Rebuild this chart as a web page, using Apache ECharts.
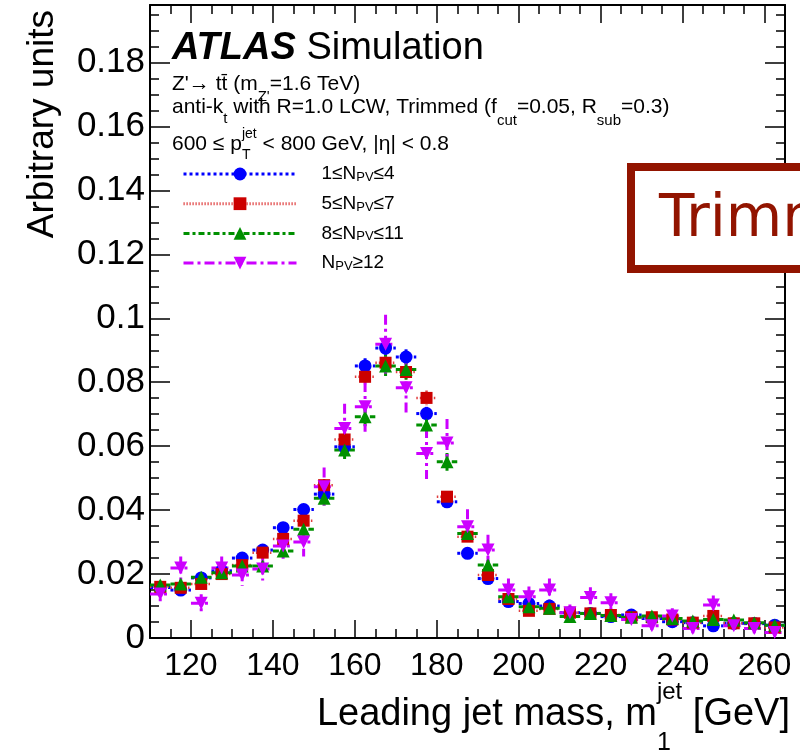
<!DOCTYPE html>
<html><head><meta charset="utf-8">
<script src="https://cdn.jsdelivr.net/npm/echarts@6/dist/echarts.min.js"></script>
<style>html,body{margin:0;padding:0;background:#fff}#c{width:800px;height:756px}</style>
</head><body><div id="c"></div>
<script>
// ---- data ----
const massBins = [112.5,117.5,122.5,127.5,132.5,137.5,142.5,147.5,152.5,157.5,162.5,167.5,172.5,177.5,182.5,187.5,192.5,197.5,202.5,207.5,212.5,217.5,222.5,227.5,232.5,237.5,242.5,247.5,252.5,257.5,262.5];
const binHalfWidth = 2.5;
const npv1to4 = [0.0158,0.0150,0.0188,0.0210,0.0250,0.0275,0.0345,0.0402,0.0450,0.0598,0.0851,0.0907,0.0879,0.0702,0.0426,0.0265,0.0186,0.0114,0.0108,0.0100,0.0079,0.0077,0.0067,0.0072,0.0061,0.0051,0.0048,0.0038,0.0046,0.0045,0.0040];
const npv5to7 = [0.0160,0.0157,0.0169,0.0200,0.0228,0.0267,0.0310,0.0367,0.0478,0.0621,0.0817,0.0861,0.0832,0.0751,0.0442,0.0317,0.0197,0.0122,0.0085,0.0091,0.0079,0.0077,0.0072,0.0065,0.0065,0.0058,0.0048,0.0069,0.0046,0.0046,0.0033];
const npv8to11 = [0.0166,0.0169,0.0190,0.0204,0.0225,0.0225,0.0272,0.0340,0.0437,0.0588,0.0692,0.0851,0.0840,0.0666,0.0551,0.0327,0.0228,0.0129,0.0098,0.0093,0.0067,0.0077,0.0070,0.0065,0.0069,0.0061,0.0053,0.0058,0.0056,0.0048,0.0040];
const npv12up = [0.0138,0.0219,0.0109,0.0219,0.0197,0.0216,0.0288,0.0300,0.0473,0.0655,0.0723,0.0919,0.0783,0.0577,0.0610,0.0348,0.0275,0.0150,0.0129,0.0150,0.0079,0.0127,0.0110,0.0058,0.0038,0.0069,0.0030,0.0103,0.0038,0.0030,0.0017];
const err1to4 = [0.0010,0.0010,0.0011,0.0012,0.0013,0.0013,0.0015,0.0016,0.0017,0.0020,0.0024,0.0025,0.0024,0.0021,0.0017,0.0013,0.0011,0.0009,0.0008,0.0008,0.0007,0.0007,0.0007,0.0007,0.0006,0.0006,0.0006,0.0005,0.0006,0.0006,0.0005];
const err5to7 = [0.0010,0.0010,0.0011,0.0012,0.0013,0.0014,0.0015,0.0016,0.0019,0.0021,0.0024,0.0025,0.0024,0.0023,0.0017,0.0015,0.0012,0.0009,0.0008,0.0008,0.0007,0.0007,0.0007,0.0007,0.0007,0.0006,0.0006,0.0007,0.0005,0.0005,0.0005];
const err8to11 = [0.0013,0.0014,0.0014,0.0015,0.0016,0.0016,0.0018,0.0020,0.0024,0.0028,0.0030,0.0034,0.0034,0.0030,0.0028,0.0020,0.0016,0.0012,0.0010,0.0010,0.0008,0.0009,0.0009,0.0008,0.0008,0.0008,0.0007,0.0008,0.0007,0.0007,0.0006];
const err12up = [0.0030,0.0036,0.0028,0.0036,0.0034,0.0036,0.0040,0.0045,0.0060,0.0078,0.0078,0.0092,0.0085,0.0080,0.0075,0.0055,0.0048,0.0036,0.0032,0.0036,0.0026,0.0032,0.0030,0.0022,0.0018,0.0024,0.0016,0.0030,0.0018,0.0016,0.0012];
const legendLabels = {
  npv1: '1\u2264N{s|PV}\u22644',
  npv2: '5\u2264N{s|PV}\u22647',
  npv3: '8\u2264N{s|PV}\u226411',
  npv4: 'N{s|PV}\u226512'
};

// ---- styling ----
const FONT = "'Liberation Sans', Arial, Helvetica, sans-serif";
const BLACK = '#000';
const mctx = document.createElement('canvas').getContext('2d');
function fontStr(p) { return (p.style || 'normal') + ' ' + (p.weight || 'normal') + ' ' + p.size + 'px ' + FONT; }
function textW(str, p) { mctx.font = fontStr(p); return mctx.measureText(str).width; }

// build a run of text pieces (sub/superscripts placed like ROOT TLatex)
function textRun(x0, baseline, pieces, align) {
  const widths = pieces.map(p => p.stack ? Math.max.apply(null, p.stack.map(q => textW(q.t, q))) : textW(p.t, p));
  const total = widths.reduce((a, b) => a + b, 0);
  let x = align === 'right' ? x0 - total : x0;
  const els = [];
  pieces.forEach((p, i) => {
    const list = p.stack ? p.stack : [p];
    list.forEach(q => {
      els.push({type:'text', z:50, style:{text:q.t, x:x, y:baseline + (q.dy || 0) - 0.35 * q.size,
        fontSize:q.size, fontFamily:FONT, fontWeight:q.weight || 'normal', fontStyle:q.style || 'normal', fill:BLACK,
        align:'left', verticalAlign:'middle', textAlign:'left', textVerticalAlign:'middle'}});
    });
    x += widths[i];
  });
  return els;
}

const sets = [
  {name:'npv1', vals:npv1to4, errs:err1to4, color:'#0000ff', symbol:'circle', size:13, rot:0, barColor:'#0000ff', barDash:[3,3], barWidth:3, legDash:[3,3]},
  {name:'npv2', vals:npv5to7, errs:err5to7, color:'#cc0000', symbol:'rect', size:12, rot:0, barColor:'#e04040', barDash:[1.5,2], barWidth:2.5, legDash:[1.2,1.8]},
  {name:'npv3', vals:npv8to11, errs:err8to11, color:'#009000', symbol:'triangle', size:13, rot:0, barColor:'#009000', barDash:[6,3,3,3], barWidth:3, legDash:[6,3,3,3]},
  {name:'npv4', vals:npv12up, errs:err12up, color:'#cc00ff', symbol:'triangle', size:13, rot:180, barColor:'#cc00ff', barDash:[10,4,3,4], barWidth:3, legDash:[10,4,3,4]}
];

const series = [];
sets.forEach(s => {
  series.push({
    type:'custom', name: s.name + '_err', xAxisIndex:0, yAxisIndex:0, silent:true, clip:true,
    data: massBins.map((m,i) => [m, s.vals[i], s.errs[i]]),
    renderItem: (params, api) => {
      const x = api.value(0), y = api.value(1), e = api.value(2);
      const pL = api.coord([x - binHalfWidth, y]), pR = api.coord([x + binHalfWidth, y]);
      const pT = api.coord([x, y + e]), pB = api.coord([x, y - e]);
      const style = {stroke: s.barColor, lineWidth: s.barWidth, lineDash: s.barDash, fill: null};
      return {type:'group', children:[
        {type:'line', shape:{x1:pL[0], y1:pL[1], x2:pR[0], y2:pR[1]}, style: style},
        {type:'line', shape:{x1:pT[0], y1:pT[1], x2:pB[0], y2:pB[1]}, style: style}
      ]};
    }
  });
  series.push({
    type:'line', name: s.name, xAxisIndex:0, yAxisIndex:0,
    data: massBins.map((m,i) => [m, s.vals[i]]),
    symbol: s.symbol, symbolSize: s.size, symbolRotate: s.rot, showSymbol:true, showAllSymbol:true,
    itemStyle:{color: s.color, borderWidth:0},
    lineStyle:{opacity:0, width:0},
    emphasis:{disabled:true}, silent:true, clip:true
  });
});

function xAxisDef(pos, minor) {
  const a = {
    type:'value', position:pos, min:110, max:265,
    axisLine:{show:!minor, onZero:false, lineStyle:{color:BLACK, width:2}},
    axisTick:{show:true, inside:true, length: minor ? 9 : 18, lineStyle:{color:BLACK, width:1.5}},
    axisLabel:{show: pos === 'bottom' && !minor, showMinLabel:false, showMaxLabel:false, margin:12, fontSize:32, color:BLACK, fontFamily:FONT},
    splitLine:{show:false}
  };
  if (minor) a.interval = 5; else { a.minInterval = 20; a.maxInterval = 20; a.splitNumber = 8; }
  return a;
}
function yAxisDef(pos, minor) {
  return {
    type:'value', position:pos, min:0, max:0.198, interval: minor ? 0.005 : 0.02,
    axisLine:{show:!minor, onZero:false, lineStyle:{color:BLACK, width:2}},
    axisTick:{show:true, inside:true, length: minor ? 9 : 20, lineStyle:{color:BLACK, width:1.5}},
    axisLabel:{show: pos === 'left' && !minor, showMaxLabel:false, margin:5, fontSize:35, color:BLACK, fontFamily:FONT},
    splitLine:{show:false}
  };
}

const M = 21, S = 15;
const graphic = [].concat(
  textRun(172, 62, [
    {t:'ATLAS', size:38, weight:'bold', style:'italic'},
    {t:' Simulation', size:38}
  ]),
  textRun(172, 92, [
    {t:"Z'\u2192 tt\u0304 (m", size:M},
    {t:"Z'", size:S, dy:10},
    {t:'=1.6 TeV)', size:M}
  ]),
  textRun(172, 115, [
    {t:'anti-k', size:M},
    {t:'t', size:S, dy:9},
    {t:' with R=1.0 LCW, Trimmed (f', size:M},
    {t:'cut', size:S, dy:11},
    {t:'=0.05, R', size:M},
    {t:'sub', size:S, dy:11},
    {t:'=0.3)', size:M}
  ]),
  textRun(172, 152, [
    {t:'600 \u2264 p', size:M},
    {stack:[{t:'jet', size:14, dy:-13}, {t:'T', size:14, dy:8}]},
    {t:' < 800 GeV, |\u03b7| < 0.8', size:M}
  ]),
  textRun(790, 728, [
    {t:'Leading jet mass, m', size:38},
    {stack:[{t:'jet', size:24, dy:-27}, {t:'1', size:25, dy:24}]},
    {t:' [GeV]', size:38}
  ], 'right'),
  [
    {type:'text', z:50, x:43, y:10, rotation:Math.PI/2, style:{text:'Arbitrary units', x:0, y:0, fontSize:37, fontFamily:FONT, fill:BLACK,
      align:'right', verticalAlign:'middle', textAlign:'right', textVerticalAlign:'middle'}},
    {type:'rect', z:100, shape:{x:631, y:167, width:400, height:102}, style:{fill:'#fff', stroke:'#921400', lineWidth:8}},
    {type:'text', z:101, style:{text:'Trimmed', x:659, y:221, fontSize:58, fontFamily:"'DejaVu Sans', Lato, sans-serif", fill:'#921400',
      align:'left', verticalAlign:'middle', textAlign:'left', textVerticalAlign:'middle'}}
  ]
);

const chart = echarts.init(document.getElementById('c'), null, {renderer:'canvas'});
chart.setOption({
  backgroundColor:'#fff',
  animation:false,
  grid:{left:150, right:15, top:5, bottom:118, containLabel:false, outerBoundsMode:'none'},
  xAxis:[xAxisDef('bottom', false), xAxisDef('bottom', true), xAxisDef('top', false), xAxisDef('top', true)],
  yAxis:[yAxisDef('left', false), yAxisDef('left', true), yAxisDef('right', false), yAxisDef('right', true)],
  legend:{
    orient:'vertical', left:182, top:160, padding:0, itemGap:5.7, itemWidth:113, itemHeight:16, selectedMode:false,
    data: sets.map(s => ({name:s.name, lineStyle:{opacity:1, width:3, color:s.barColor, type:s.legDash}})),
    formatter: n => legendLabels[n],
    textStyle:{fontFamily:FONT, fontSize:19, lineHeight:20, color:BLACK, padding:[0,0,0,20],
      rich:{s:{fontSize:13, lineHeight:13, padding:[11,0,0,0], verticalAlign:'bottom', fontFamily:FONT, color:BLACK}}}
  },
  graphic: graphic,
  series: series
});
</script>
</body></html>
